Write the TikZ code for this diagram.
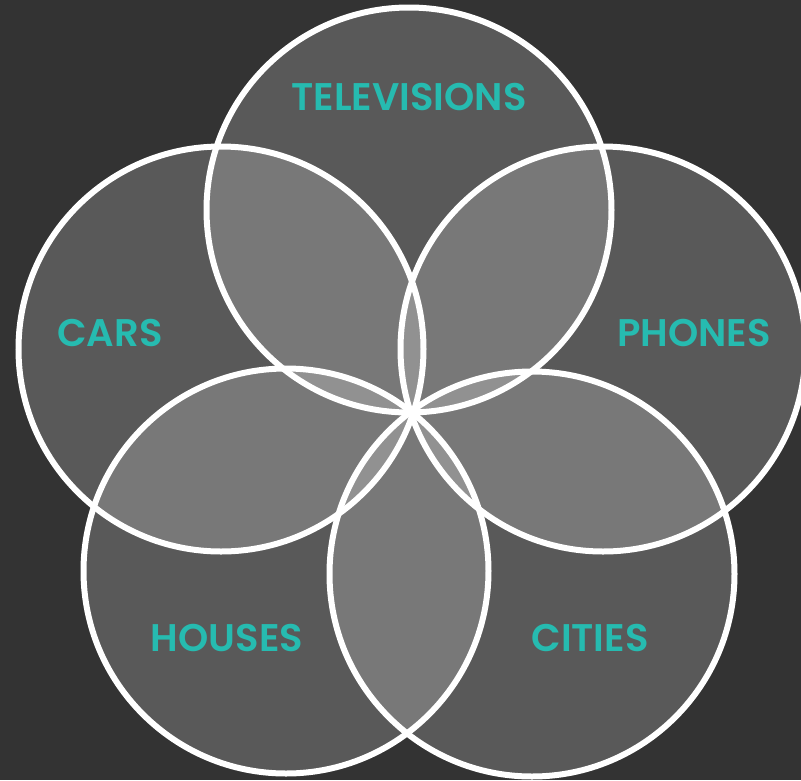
\documentclass[tikz,border=0pt]{standalone}
\usepackage{fontspec}
\setmainfont{Poppins}[BoldFont={Poppins SemiBold}]
\usepackage{xcolor}
\usetikzlibrary{positioning}

\definecolor{bgdark}{RGB}{51,51,51}
\definecolor{labelteal}{RGB}{38,187,176}

\begin{document}
\begin{tikzpicture}[
        x=1pt, y=-1pt,
        petal/.style={
            circle,
            draw=white,
            line width=6pt,
            fill=white,
            fill opacity=0.19,
            minimum size=405pt,
            inner sep=0pt
        },
        tag/.style={
            font=\fontsize{38.5}{42}\selectfont\bfseries,
            text=labelteal,
            inner sep=0pt
        }
    ]

        \fill[bgdark] (0,0) rectangle (801,780);
        \useasboundingbox (0,0) rectangle (801,780);

        \node[petal] (tv)     at (409, 210) {};
        \node[petal] (cars)   at (221, 349) {};
        \node[petal] (phones) at (603, 349) {};
        \node[petal] (houses) at (286, 571) {};
        \node[petal] (cities) at (532, 574) {};

        \node[tag] (tvtxt)     at (409, 97)  {TELEVISIONS};
        \node[tag] (carstxt)   at (110, 333) {CARS};
        \node[tag] (phonestxt) at (694, 333) {PHONES};
        \node[tag] (housestxt) at (227, 638) {HOUSES};
        \node[tag] (citiestxt) at (590, 638) {CITIES};

    \end{tikzpicture}
\end{document}
